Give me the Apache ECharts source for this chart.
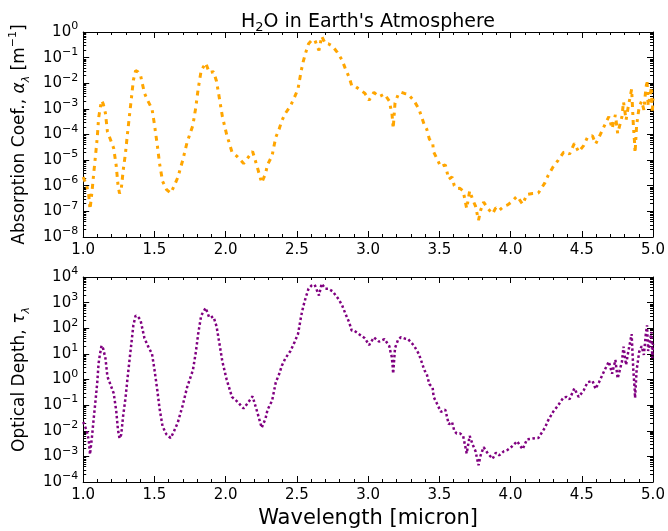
<!DOCTYPE html>
<html lang="en">
<head>
<meta charset="UTF-8">
<title>H2O in Earth's Atmosphere</title>
<script src="https://cdn.jsdelivr.net/npm/echarts@6/dist/echarts.min.js"></script>
<style>
  body { margin: 0; background: #fff; }
  #main { width: 668px; height: 531px; }
</style>
</head>
<body>
<div id="main"></div>
<script>
// wavelength in micron
var wavelength = [
  1.000, 1.014, 1.025, 1.039, 1.048, 1.062, 1.074, 1.087, 1.099, 1.108,
  1.118, 1.129, 1.140, 1.156, 1.170, 1.193, 1.214, 1.232, 1.244, 1.255,
  1.267, 1.280, 1.297, 1.310, 1.324, 1.338, 1.352, 1.368, 1.385, 1.402,
  1.430, 1.455, 1.483, 1.500, 1.520, 1.536, 1.557, 1.585, 1.614, 1.635,
  1.664, 1.699, 1.729, 1.770, 1.791, 1.807, 1.828, 1.860, 1.885, 1.915,
  1.936, 1.956, 1.977, 2.007, 2.025, 2.044, 2.080, 2.126, 2.150, 2.189,
  2.223, 2.253, 2.280, 2.294, 2.326, 2.352, 2.375, 2.395, 2.420, 2.455,
  2.485, 2.508, 2.531, 2.545, 2.561, 2.582, 2.602, 2.625, 2.655, 2.674,
  2.700, 2.720, 2.750, 2.784, 2.816, 2.839, 2.867, 2.885, 2.905, 2.926,
  2.950, 2.977, 3.007, 3.041, 3.076, 3.115, 3.149, 3.160, 3.166, 3.172,
  3.176, 3.189, 3.210, 3.230, 3.255, 3.280, 3.322, 3.356, 3.375, 3.395,
  3.412, 3.430, 3.453, 3.460, 3.485, 3.510, 3.542, 3.566, 3.589, 3.605,
  3.621, 3.645, 3.667, 3.680, 3.692, 3.713, 3.735, 3.754, 3.775, 3.790,
  3.811, 3.840, 3.874, 3.897, 3.920, 3.954, 3.980, 4.005, 4.046, 4.085,
  4.115, 4.155, 4.195, 4.241, 4.265, 4.299, 4.335, 4.372, 4.395, 4.414,
  4.448, 4.478, 4.513, 4.540, 4.575, 4.597, 4.621, 4.655, 4.690, 4.713,
  4.736, 4.752, 4.782, 4.793, 4.811, 4.825, 4.839, 4.850, 4.862, 4.871,
  4.874, 4.885, 4.903, 4.920, 4.936, 4.949, 4.958, 4.966, 4.980, 4.989,
  4.995, 5.000
];

// absorption coefficient [m^-1]
var absorption = [
  2.2e-6, 1.9e-6, 1.0e-6, 4.3e-7, 1.2e-7, 6.2e-7, 3.1e-6, 1.6e-5, 8.1e-5, 4.3e-4,
  1.0e-3, 2.1e-3, 1.6e-3, 6.8e-4, 1.3e-4, 6.0e-5, 2.9e-5, 5.9e-6, 1.1e-6, 5.0e-7,
  7.1e-7, 3.7e-6, 1.9e-5, 9.8e-5, 5.0e-4, 2.5e-3, 1.3e-2, 3.1e-2, 2.8e-2, 2.1e-2,
  4.1e-3, 2.0e-3, 1.0e-3, 2.5e-4, 3.9e-5, 7.4e-6, 1.5e-6, 7.1e-7, 5.2e-7, 8.9e-7,
  2.1e-6, 1.0e-5, 4.9e-5, 2.3e-4, 1.2e-3, 6.0e-3, 3.1e-2, 6.2e-2, 2.6e-2, 2.8e-2,
  1.2e-2, 2.6e-3, 5.0e-4, 1.0e-4, 4.7e-5, 2.1e-5, 1.4e-5, 7.4e-6, 1.1e-5, 2.2e-5,
  5.1e-6, 1.3e-6, 3.0e-6, 6.6e-6, 1.5e-5, 7.8e-5, 1.6e-4, 3.5e-4, 6.8e-4, 1.3e-3,
  3.0e-3, 6.0e-3, 3.2e-2, 7.1e-2, 1.5e-1, 3.5e-1, 4.6e-1, 5.0e-1, 1.9e-1, 6.8e-1,
  3.5e-1, 3.5e-1, 2.8e-1, 1.6e-1, 8.3e-2, 3.9e-2, 1.7e-2, 8.1e-3, 7.9e-3, 6.5e-3,
  5.2e-3, 4.1e-3, 2.2e-3, 4.4e-3, 3.0e-3, 3.8e-3, 2.0e-3, 1.0e-3, 7.8e-4, 3.5e-4,
  1.7e-4, 1.7e-3, 3.5e-3, 4.5e-3, 4.0e-3, 3.8e-3, 2.1e-3, 1.0e-3, 5.0e-4, 2.3e-4,
  1.6e-4, 6.6e-5, 4.8e-5, 2.1e-5, 1.1e-5, 5.5e-6, 6.6e-6, 1.8e-6, 2.2e-6, 1.0e-6,
  7.8e-7, 7.9e-7, 6.3e-7, 2.8e-7, 1.3e-7, 6.3e-7, 2.8e-7, 1.6e-7, 4.5e-8, 1.1e-7,
  2.3e-7, 1.3e-7, 8.1e-8, 1.4e-7, 1.1e-7, 1.6e-7, 1.8e-7, 2.3e-7, 3.9e-7, 1.9e-7,
  4.6e-7, 5.0e-7, 5.2e-7, 1.3e-6, 2.6e-6, 5.5e-6, 1.0e-5, 2.0e-5, 2.1e-5, 1.7e-5,
  4.5e-5, 2.1e-5, 3.7e-5, 7.8e-5, 8.9e-5, 4.3e-5, 7.8e-5, 2.0e-4, 5.0e-4, 1.7e-4,
  5.8e-4, 1.1e-4, 5.0e-4, 1.9e-3, 3.7e-4, 1.1e-3, 1.2e-3, 5.9e-3, 2.3e-4, 4.5e-5,
  1.9e-5, 2.3e-4, 1.2e-3, 2.0e-3, 9.1e-4, 5.5e-3, 1.3e-2, 1.3e-3, 3.5e-3, 7.1e-3,
  6.8e-4, 2.5e-3
];

// optical depth
var opticalDepth = [
  2.2e-2, 1.9e-2, 1.0e-2, 4.3e-3, 1.2e-3, 6.2e-3, 3.1e-2, 0.16, 0.81, 4.3,
  10, 21, 16, 6.8, 1.3, 0.60, 0.29, 5.9e-2, 1.1e-2, 5.0e-3,
  7.1e-3, 3.7e-2, 0.19, 0.98, 5.0, 25, 130, 310, 280, 210,
  41, 20, 10, 2.5, 0.39, 7.4e-2, 1.5e-2, 7.1e-3, 5.2e-3, 8.9e-3,
  2.1e-2, 0.10, 0.49, 2.3, 12, 60, 310, 620, 260, 280,
  120, 26, 5.0, 1.0, 0.47, 0.21, 0.14, 7.4e-2, 0.11, 0.22,
  5.1e-2, 1.3e-2, 3.0e-2, 6.6e-2, 0.15, 0.78, 1.6, 3.5, 6.8, 13,
  30, 60, 320, 710, 1500, 3500, 4600, 5000, 1900, 5500,
  3500, 3500, 2800, 1600, 830, 390, 170, 81, 79, 65,
  52, 41, 22, 44, 30, 38, 20, 10, 7.8, 3.5,
  1.7, 17, 35, 45, 40, 38, 21, 10, 5.0, 2.3,
  1.6, 0.66, 0.48, 0.21, 0.11, 5.5e-2, 6.6e-2, 1.8e-2, 2.2e-2, 1.0e-2,
  7.8e-3, 7.9e-3, 6.3e-3, 2.8e-3, 1.3e-3, 6.3e-3, 2.8e-3, 1.6e-3, 4.5e-4, 1.1e-3,
  2.3e-3, 1.3e-3, 8.1e-4, 1.4e-3, 1.1e-3, 1.6e-3, 1.8e-3, 2.3e-3, 3.9e-3, 1.9e-3,
  4.6e-3, 5.0e-3, 5.2e-3, 1.3e-2, 2.6e-2, 5.5e-2, 0.10, 0.20, 0.21, 0.17,
  0.45, 0.21, 0.37, 0.78, 0.89, 0.43, 0.78, 2.0, 5.0, 1.7,
  5.8, 1.1, 5.0, 19, 3.7, 11, 12, 59, 2.3, 0.45,
  0.19, 2.3, 12, 20, 9.1, 55, 130, 13, 35, 71,
  6.8, 25
];

var alphaTicks = [1e-8, 1e-7, 1e-6, 1e-5, 1e-4, 1e-3, 1e-2, 1e-1, 1e0];
var tauTicks = [1e-4, 1e-3, 1e-2, 1e-1, 1e0, 1e1, 1e2, 1e3, 1e4];

var FONT = 'DejaVu Sans';

function minorValues(ticks) {
  var out = [];
  for (var i = 0; i < ticks.length - 1; i++) {
    for (var k = 2; k <= 9; k++) out.push(ticks[i] * k);
  }
  return out;
}

function powLabel(v) {
  var e = Math.round(Math.log10(v));
  return '{b|10}{s|' + (e < 0 ? '\u2212' + (-e) : e) + '}';
}

function xAxes(grid, showLabels) {
  var base = {
    type: 'value', gridIndex: grid, min: 1, max: 5, interval: 0.5,
    axisLine: { show: true, lineStyle: { color: '#000', width: 1 } },
    axisTick: { inside: true, length: 6, lineStyle: { color: '#000' } },
    minorTick: { show: true, splitNumber: 5, length: 3, lineStyle: { color: '#000' } },
    splitLine: { show: false },
    axisLabel: {
      show: showLabels, margin: 6, color: '#000', fontFamily: FONT, fontSize: 15,
      formatter: function (v) { return v.toFixed(1); }
    }
  };
  var top = Object.assign({}, base, { position: 'top', axisLabel: { show: false } });
  var bottom = Object.assign({}, base, { position: 'bottom' });
  if (grid === 1) {
    bottom.name = 'Wavelength [micron]';
    bottom.nameLocation = 'middle';
    bottom.nameGap = 26;
    bottom.nameTextStyle = { fontFamily: FONT, fontSize: 21, color: '#000' };
  }
  return [bottom, top];
}

function yAxes(grid, ticks, name, rich) {
  var lo = ticks[0], hi = ticks[ticks.length - 1];
  var minor = minorValues(ticks);
  function axis(pos, major) {
    var a = {
      type: 'log', logBase: 10, gridIndex: grid, position: pos, min: lo, max: hi,
      axisLine: { show: major, lineStyle: { color: '#000', width: 1 } },
      axisTick: {
        inside: true, length: major ? 6 : 3, lineStyle: { color: '#000' },
        customValues: major ? ticks : minor
      },
      splitLine: { show: false },
      axisLabel: { show: false }
    };
    if (major && pos === 'left') {
      a.axisLabel = {
        show: true, margin: 5, customValues: ticks, formatter: powLabel,
        rich: {
          b: { fontFamily: FONT, fontSize: 15, color: '#000', lineHeight: 22 },
          s: { fontFamily: FONT, fontSize: 11, color: '#000', verticalAlign: 'top', lineHeight: 11 }
        }
      };
      a.name = name;
      a.nameLocation = 'middle';
      a.nameGap = 46;
      a.nameTextStyle = {
        fontFamily: FONT, fontSize: 17, color: '#000', lineHeight: 24, rich: rich
      };
    }
    return a;
  }
  return [axis('left', true), axis('left', false), axis('right', true), axis('right', false)];
}

var nameRich = {
  it: { fontFamily: FONT, fontStyle: 'italic', fontSize: 17, color: '#000', lineHeight: 24 },
  sub: { fontFamily: FONT, fontStyle: 'italic', fontSize: 11, color: '#000', verticalAlign: 'bottom', lineHeight: 12 },
  sup: { fontFamily: FONT, fontSize: 11, color: '#000', verticalAlign: 'top', lineHeight: 12 }
};

var chart = echarts.init(document.getElementById('main'));

function pairs(ys) {
  return wavelength.map(function (x, i) { return [x, ys[i]]; });
}

chart.setOption({
  animation: false,
  backgroundColor: '#fff',
  title: {
    text: '{t|H}{sub|2}{t|O in Earth\'s Atmosphere}',
    left: 363, top: 5, textAlign: 'center',
    textStyle: {
      fontWeight: 'normal',
      rich: {
        t: { fontFamily: FONT, fontSize: 19, fontWeight: 'normal', color: '#000', lineHeight: 24 },
        sub: { fontFamily: FONT, fontSize: 13, fontWeight: 'normal', color: '#000', verticalAlign: 'bottom', lineHeight: 13 }
      }
    }
  },
  grid: [
    { left: 73, right: 15, top: 32, height: 205 },
    { left: 73, right: 15, top: 277, height: 205 }
  ],
  xAxis: xAxes(0, true).concat(xAxes(1, true)),
  yAxis: yAxes(0, alphaTicks, 'Absorption Coef., {it|\u03b1}{sub|\u03bb} [m{sup|\u22121}]', nameRich)
    .concat(yAxes(1, tauTicks, 'Optical Depth, {it|\u03c4}{sub|\u03bb}', nameRich)),
  series: [
    {
      type: 'line', xAxisIndex: 0, yAxisIndex: 0, data: pairs(absorption),
      showSymbol: false, smooth: false,
      lineStyle: { color: '#FFA500', width: 3, type: [5, 5, 3, 5], cap: 'butt' }
    },
    {
      type: 'line', xAxisIndex: 2, yAxisIndex: 4, data: pairs(opticalDepth),
      showSymbol: false, smooth: false,
      lineStyle: { color: '#800080', width: 2.5, type: [2.5, 2.5], cap: 'butt' }
    }
  ]
});
</script>
</body>
</html>
